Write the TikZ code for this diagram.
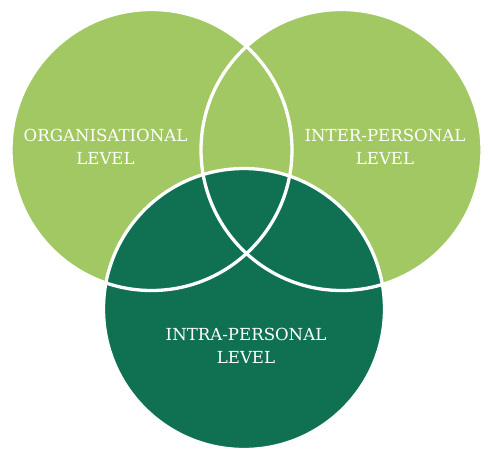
\documentclass[tikz,border=0pt]{standalone}
\usepackage{fontspec}
\setmainfont{DejaVu Serif}
\usepackage{tikz}
\usetikzlibrary{positioning}

\definecolor{lightleaf}{HTML}{A2C864}
\definecolor{darkleaf}{HTML}{107152}

\begin{document}
\begin{tikzpicture}[
    x=1pt, y=-1pt,
    ring/.style={draw=white, line width=3.3pt},
    label/.style={text=white, align=center, font=\fontsize{16.6}{22.5}\selectfont},
]
\useasboundingbox (0,0) rectangle (490,459);

% circles
\coordinate (org) at (151.5,150);
\coordinate (inter) at (341.5,150);
\coordinate (intra) at (244,309);

\fill[lightleaf] (org) circle[radius=140.5];
\fill[lightleaf] (inter) circle[radius=140.5];
\fill[darkleaf] (intra) circle[radius=140.5];

\draw[ring] (org) circle[radius=140.5];
\draw[ring] (inter) circle[radius=140.5];
\draw[ring] (intra) circle[radius=140.5];

% labels
\node[label] (orgtext) at (105.5,147) {ORGANISATIONAL\\LEVEL};
\node[label] (intertext) at (385,147) {INTER-PERSONAL\\LEVEL};
\node[label] (intratext) at (246,346) {INTRA-PERSONAL\\LEVEL};

\end{tikzpicture}
\end{document}
